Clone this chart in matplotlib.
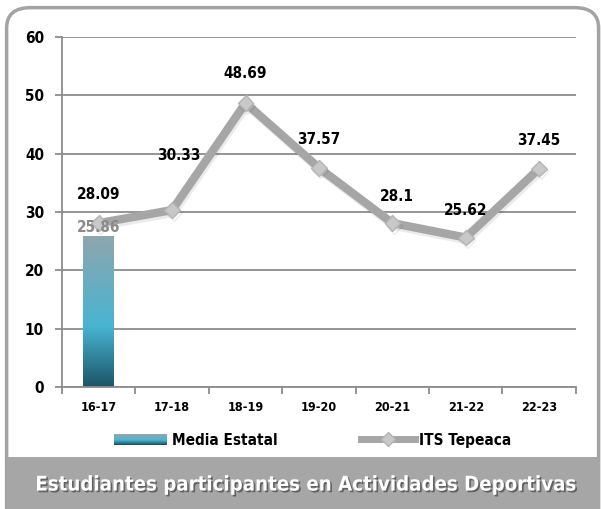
import numpy as np
import matplotlib
matplotlib.use("Agg")
import matplotlib.pyplot as plt
import matplotlib.patheffects as pe
from matplotlib.colors import LinearSegmentedColormap
from matplotlib.patches import FancyBboxPatch, Rectangle
from matplotlib.lines import Line2D
from matplotlib.legend_handler import HandlerBase

plt.rcParams['font.family'] = ['DejaVu Sans']
plt.rcParams['font.stretch'] = 'condensed'
plt.rcParams['font.weight'] = 'bold'

# data
periodos = ["16-17", "17-18", "18-19", "19-20", "20-21", "21-22", "22-23"]
media_estatal = [25.86]            # only first period
its_tepeaca = [28.09, 30.33, 48.69, 37.57, 28.1, 25.62, 37.45]
label_lift = [15, 34, 16, 15, 14, 14, 15]  # points above marker
label_shift = [0, 5, 0, 0, 3, 0, 0]

grad_cmap = LinearSegmentedColormap.from_list(
    "bar", [(0.0, "#1c5467"), (0.4, "#47b4d2"), (1.0, "#8fa6ae")])

fig = plt.figure(figsize=(6.01, 5.09), dpi=100)

# rounded frame + grey banner
frame = FancyBboxPatch((0.011, -0.05), 0.985, 1.035, boxstyle="round,pad=0,rounding_size=0.04",
                       transform=fig.transFigure, fc="white", ec="#a3a3a3", lw=2.5, zorder=-2)
fig.patches.append(frame)
banner = Rectangle((0.012, 0.0), 0.986, 0.102, transform=fig.transFigure,
                   fc="#a6a6a6", ec="none", zorder=-1)
fig.patches.append(banner)
fig.text(0.507, 0.047, "Estudiantes participantes en Actividades Deportivas",
         ha="center", va="center", color="white", fontsize=14.6, fontweight="bold",
         path_effects=[pe.withSimplePatchShadow(offset=(1.2, -1.2), shadow_rgbFace="#444", alpha=0.7)])

ax = fig.add_axes([0.1032, 0.2397, 0.855, 0.6876])
ax.patch.set_alpha(0)
x = np.arange(len(periodos))

# bar with gradient
bw = 0.42
bars = ax.bar(x[:len(media_estatal)], media_estatal, width=bw, color="none", zorder=2)
for b in bars:
    grad = np.linspace(0, 1, 256).reshape(-1, 1)
    im = ax.imshow(grad, cmap=grad_cmap, origin="lower", aspect="auto",
                   extent=[b.get_x(), b.get_x() + b.get_width(), 0, b.get_height()], zorder=2)
    im.set_clip_path(b)
    ax.annotate(f"{b.get_height():g}", (b.get_x() + b.get_width() / 2, b.get_height()),
                xytext=(0, 1), textcoords="offset points", ha="center", va="bottom",
                fontsize=11, fontweight="bold", color="#8a8a8a", zorder=5)

ax.plot(x, its_tepeaca, color="#a6a6a6", lw=6, marker="D", ms=8, mfc="#c8c8c8",
        mec="#b4b4b4", mew=1, zorder=3, solid_joinstyle="miter",
        path_effects=[pe.SimpleLineShadow(offset=(1, -2), alpha=0.08), pe.Normal()])
for xi, v, up, dx in zip(x, its_tepeaca, label_lift, label_shift):
    ax.annotate(f"{v:g}", (xi, v), xytext=(dx, up),
                textcoords="offset points", ha="center", va="bottom",
                fontsize=11, fontweight="bold", color="black", zorder=6)

ax.set_xlim(-0.5, len(periodos) - 0.5)
ax.set_ylim(0, 60)
ax.set_yticks(range(0, 61, 10))
ax.yaxis.grid(True, color="#8c8c8c", lw=1.3)
ax.set_axisbelow(True)
ax.set_xticks(x)
ax.set_xticklabels(periodos, fontsize=9, fontweight="bold")
ax.set_xticks(np.arange(-0.5, len(periodos)), minor=True)
ax.tick_params(axis="x", which="major", length=0, pad=10)
ax.tick_params(axis="x", which="minor", length=5, color="#8c8c8c", width=1.3)
ax.tick_params(axis="y", length=5, color="#8c8c8c", width=1.3, labelsize=11, pad=8)
for lab in ax.get_yticklabels():
    lab.set_fontweight("bold")
for s in ["top", "right"]:
    ax.spines[s].set_visible(False)
for s in ["left", "bottom"]:
    ax.spines[s].set_color("#8c8c8c")
    ax.spines[s].set_linewidth(1.3)


class GradientHandler(HandlerBase):
    def create_artists(self, legend, orig, xd, yd, w, h, fontsize, trans):
        n = 12
        arts = []
        for i in range(n):
            c = grad_cmap(i / (n - 1))
            arts.append(Rectangle((xd, yd + h * i / n), w, h / n + 0.2, fc=c, ec="none",
                                  transform=trans))
        return arts


bar_handle = Rectangle((0, 0), 1, 1)
line_handle = Line2D([], [], color="#a6a6a6", lw=5, marker="D", ms=7, mfc="#c8c8c8", mec="#b4b4b4")
fig.legend([bar_handle, line_handle], ["Media Estatal", "ITS Tepeaca"],
           handler_map={bar_handle: GradientHandler()},
           loc="center", bbox_to_anchor=(0.52, 0.135), ncol=2, frameon=False,
           handlelength=3.5, columnspacing=5.5, handletextpad=0.3,
           prop={"size": 11, "weight": "bold"})

fig.savefig("out.png", dpi=100)
